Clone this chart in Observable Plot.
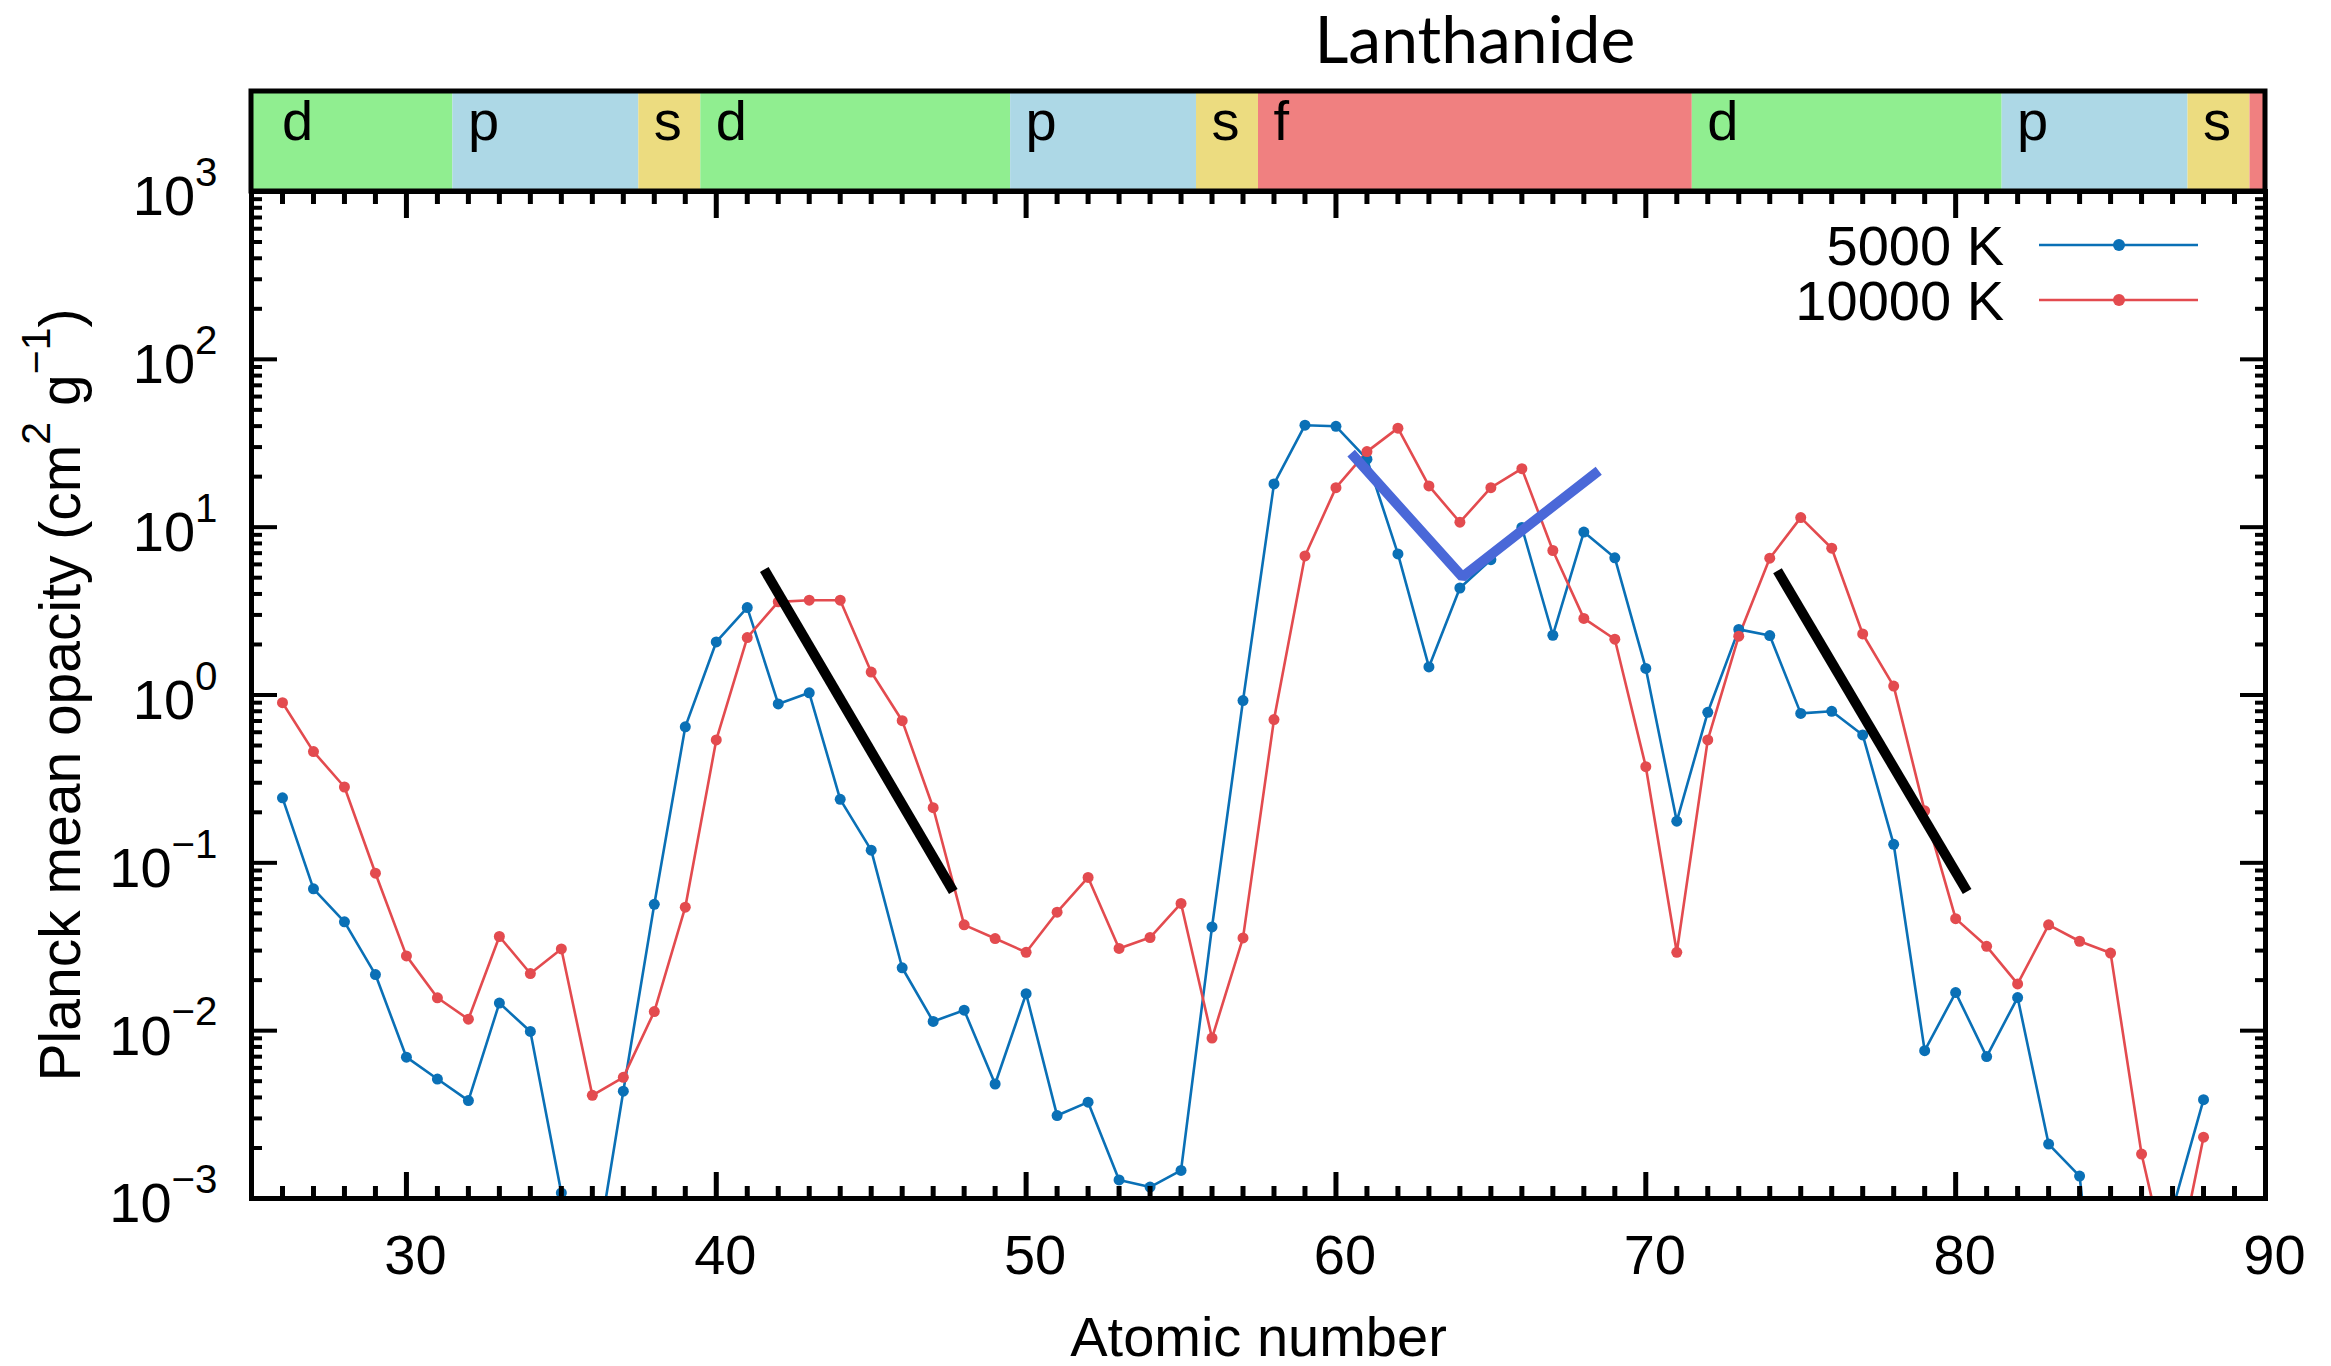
<!DOCTYPE html>
<html><head><meta charset="utf-8">
<script src="https://cdn.jsdelivr.net/npm/d3@7"></script>
<script src="https://cdn.jsdelivr.net/npm/@observablehq/plot@0.6"></script>
<style>html,body{margin:0;padding:0;background:#fff;} svg{display:block;}</style>
</head><body><div id="chart"></div>
<script>
// ---- data ----
const atomicNumber = [26,27,28,29,30,31,32,33,34,35,36,37,38,39,40,41,42,43,44,45,46,47,48,49,50,51,52,53,54,55,56,57,58,59,60,61,62,63,64,65,66,67,68,69,70,71,72,73,74,75,76,77,78,79,80,81,82,83,84,85,86,87,88];
const opacity5000 = [0.244,0.070,0.0445,0.0216,0.00695,0.00515,0.00383,0.0146,0.00989,0.00108,0.00032,0.00436,0.0566,0.646,2.07,3.32,0.885,1.03,0.239,0.119,0.0237,0.01135,0.01325,0.00481,0.0166,0.00312,0.00375,0.00129,0.00117,0.00147,0.0415,0.927,18.1,40.5,39.9,25.4,6.93,1.47,4.34,6.40,9.96,2.27,9.35,6.57,1.44,0.177,0.789,2.46,2.26,0.777,0.80,0.578,0.129,0.0076,0.01686,0.00701,0.01575,0.00211,0.00136,0.00003,0.0001,0.00086,0.00388];
const opacity10000 = [0.90,0.46,0.283,0.0867,0.0279,0.0157,0.0117,0.0364,0.0219,0.0307,0.00412,0.00527,0.0130,0.0544,0.54,2.20,3.59,3.67,3.67,1.37,0.703,0.213,0.0427,0.0354,0.0293,0.0508,0.0818,0.0309,0.0359,0.0573,0.00904,0.0357,0.714,6.74,17.2,28.2,38.9,17.6,10.7,17.2,22.3,7.26,2.86,2.15,0.374,0.0293,0.54,2.24,6.53,11.4,7.49,2.31,1.13,0.204,0.0465,0.0318,0.0190,0.0427,0.0341,0.0290,0.00184,0.00029,0.00232];
const seriesNames = ["5000 K", "10000 K"];
const seriesColors = ["#0a70b6", "#e34b4f"];

// slope guides (black) and lanthanide V guide (blue)
const guideX1 = [41.55, 74.25];
const guideY1 = [5.6, 5.5];
const guideX2 = [47.65, 80.37];
const guideY2 = [0.0675, 0.0675];
const vGuideX = [60.49, 64.08, 68.48];
const vGuideY = [27.6, 5.05, 21.7];

// electron block band
const blockStart = [25, 31.5, 37.5, 39.5, 49.5, 55.5, 57.5, 71.5, 81.5, 87.5, 89.5];
const blockEnd   = [31.5, 37.5, 39.5, 49.5, 55.5, 57.5, 71.5, 81.5, 87.5, 89.5, 90];
const blockType  = ["d", "p", "s", "d", "p", "s", "f", "d", "p", "s", "f"];
const blockLabelX = [26, 32, 38, 40, 50, 56, 58, 72, 82, 88, null];
const blockColors = {d: "#90ee90", p: "#add8e6", s: "#ecdc80", f: "#f08080"};
const lanthanideTitle = "Lanthanide";
const lanthanideBlock = 6;

// axes
const xMajorTicks = [30, 40, 50, 60, 70, 80, 90];
const xMinorTicks = d3.range(26, 90).filter(d => d % 10 !== 0);
const yMajorTicks = [1e-3, 1e-2, 1e-1, 1e0, 1e1, 1e2, 1e3];
const yTickLabels = ["10{−3}", "10{−2}", "10{−1}", "10{0}", "10{1}", "10{2}", "10{3}"];
const yMinorTicks = [];
for (let k = -3; k < 3; k++) for (let m = 2; m <= 9; m++) yMinorTicks.push(m * Math.pow(10, k));
const xLabel = "Atomic number";
const yLabel = "Planck mean opacity (cm{2} g{−1})";

const FONT = "'Liberation Sans', Arial, Helvetica, sans-serif";

const rows = atomicNumber.flatMap((z, i) => [
  {z, v: opacity5000[i], s: seriesNames[0]},
  {z, v: opacity10000[i], s: seriesNames[1]}
]);
const guides = guideX1.map((x1, i) => ({x1, y1: guideY1[i], x2: guideX2[i], y2: guideY2[i]}));
const vGuide = vGuideX.map((x, i) => ({x, y: vGuideY[i]}));

function blockBand(index, scales, values, dims) {
  const x = scales.x;
  const h = 100;
  const top = dims.marginTop - h;
  const g = d3.create("svg:g");
  blockType.forEach((t, i) => {
    g.append("rect")
      .attr("x", x(blockStart[i])).attr("width", x(blockEnd[i]) - x(blockStart[i]))
      .attr("y", top).attr("height", h).attr("fill", blockColors[t]);
  });
  blockType.forEach((t, i) => {
    if (blockLabelX[i] == null) return;
    g.append("text").attr("x", x(blockLabelX[i])).attr("y", top + 49).attr("text-anchor", "start")
      .attr("font-size", 56).attr("font-family", FONT).attr("fill", "black").text(t);
  });
  g.append("rect")
    .attr("x", x(blockStart[0])).attr("width", x(blockEnd[blockEnd.length - 1]) - x(blockStart[0]))
    .attr("y", top).attr("height", h).attr("fill", "none").attr("stroke", "black").attr("stroke-width", 5);
  g.append("text")
    .attr("x", x((blockStart[lanthanideBlock] + blockEnd[lanthanideBlock]) / 2)).attr("y", 63)
    .attr("text-anchor", "middle").attr("font-size", 66).attr("font-family", "Lato, 'Open Sans', sans-serif")
    .attr("fill", "black").text(lanthanideTitle);
  return g.node();
}

function legend(index, scales, values, dims) {
  const right = dims.width - dims.marginRight;
  const g = d3.create("svg:g");
  seriesNames.forEach((name, i) => {
    const cy = dims.marginTop + 54 + 55 * i;
    g.append("text").attr("x", right - 261).attr("y", cy).attr("dy", "0.36em")
      .attr("text-anchor", "end").attr("font-size", 56).attr("font-family", FONT).attr("fill", "black").text(name);
    g.append("line").attr("x1", right - 226).attr("x2", right - 67).attr("y1", cy).attr("y2", cy)
      .attr("stroke", seriesColors[i]).attr("stroke-width", 2.6);
    g.append("circle").attr("cx", right - 146).attr("cy", cy).attr("r", 6).attr("fill", seriesColors[i]);
  });
  return g.node();
}

const noLabel = () => "";
const tickOpts = {tickFormat: noLabel, stroke: "black", label: null};

const chart = Plot.plot({
  width: 2331,
  height: 1366,
  marginLeft: 251,
  marginRight: 66,
  marginTop: 191,
  marginBottom: 168,
  style: {fontFamily: FONT, background: "white", color: "black", overflow: "visible"},
  x: {domain: [25, 90]},
  y: {type: "log", domain: [1e-3, 1e3]},
  color: {domain: seriesNames, range: seriesColors},
  marks: [
    Plot.line(rows, {x: "z", y: "v", z: "s", stroke: "s", strokeWidth: 2.6, clip: true}),
    Plot.dot(rows, {x: "z", y: "v", fill: "s", r: 5.5, clip: true}),
    Plot.link(guides, {x1: "x1", y1: "y1", x2: "x2", y2: "y2", stroke: "black", strokeWidth: 10, strokeLinecap: "butt"}),
    Plot.line(vGuide, {x: "x", y: "y", stroke: "#4a68d8", strokeWidth: 10, strokeLinejoin: "miter", strokeLinecap: "butt"}),
    // ticks (inward)
    Plot.axisX({...tickOpts, ticks: xMajorTicks, tickSize: -26, strokeWidth: 5}),
    Plot.axisX({...tickOpts, ticks: xMinorTicks, tickSize: -12, strokeWidth: 5}),
    Plot.axisX({...tickOpts, anchor: "top", ticks: xMajorTicks, tickSize: -26, strokeWidth: 5}),
    Plot.axisX({...tickOpts, anchor: "top", ticks: xMinorTicks, tickSize: -12, strokeWidth: 5}),
    Plot.axisY({...tickOpts, ticks: yMajorTicks, tickSize: -26, strokeWidth: 4}),
    Plot.axisY({...tickOpts, ticks: yMinorTicks, tickSize: -11, strokeWidth: 4}),
    Plot.axisY({...tickOpts, anchor: "right", ticks: yMajorTicks, tickSize: -26, strokeWidth: 4}),
    Plot.axisY({...tickOpts, anchor: "right", ticks: yMinorTicks, tickSize: -11, strokeWidth: 4}),
    // tick labels
    Plot.axisX({ticks: xMajorTicks, tickSize: 0, tickPadding: 36, fontSize: 56, dx: 9, label: null, fill: "black"}),
    Plot.axisY({ticks: yMajorTicks, tickSize: 0, tickPadding: 34, fontSize: 56, dy: 6, label: null, fill: "black",
      tickFormat: d => yTickLabels[yMajorTicks.indexOf(d)]}),
    Plot.frame({stroke: "black", strokeWidth: 5}),
    // axis titles
    Plot.text([xLabel], {text: d => d, frameAnchor: "bottom", dy: 140, fontSize: 56, lineAnchor: "middle", textAnchor: "middle", fill: "black"}),
    Plot.text([yLabel], {text: d => d, frameAnchor: "left", dx: -190, rotate: -90, fontSize: 57, lineAnchor: "middle", textAnchor: "middle", fill: "black"}),
    blockBand,
    legend
  ]
});
document.getElementById("chart").appendChild(chart);

// remove empty tick-label texts of the tick-only axes
chart.querySelectorAll("text").forEach(t => { if (t.textContent === "") t.remove(); });

// turn {…} into real superscript tspans
const NS = "http://www.w3.org/2000/svg";
chart.querySelectorAll("text").forEach(t => {
  const s = t.textContent;
  if (!s.includes("{")) return;
  const fs = parseFloat(getComputedStyle(t).fontSize) || 56;
  t.textContent = "";
  let raised = false;
  s.split(/(\{[^}]*\})/).filter(p => p).forEach(p => {
    const ts = document.createElementNS(NS, "tspan");
    if (p.startsWith("{")) {
      ts.textContent = p.slice(1, -1);
      ts.setAttribute("font-size", (fs * 0.72).toFixed(1));
      ts.setAttribute("dy", (-fs * 0.52).toFixed(1));
      raised = true;
    } else {
      ts.textContent = p;
      if (raised) { ts.setAttribute("dy", (fs * 0.52).toFixed(1)); raised = false; }
    }
    t.appendChild(ts);
  });
});
</script>
</body></html>
